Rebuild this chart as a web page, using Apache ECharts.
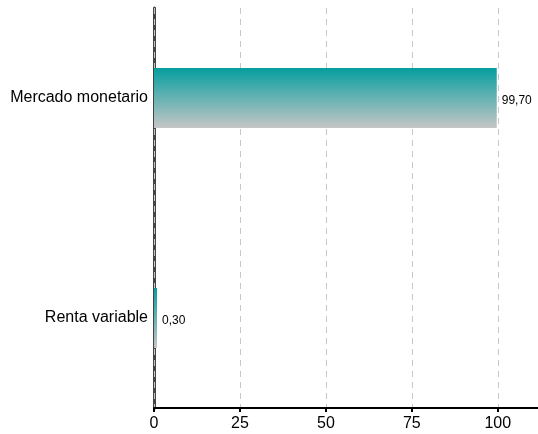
<!DOCTYPE html>
<html>
<head>
<meta charset="utf-8">
<script src="https://cdn.jsdelivr.net/npm/echarts@6/dist/echarts.min.js"></script>
<style>html,body{margin:0;padding:0;background:#fff}#c{width:538px;height:434px}</style>
</head>
<body>
<div id="c"></div>
<script>
var categories = ['Renta variable', 'Mercado monetario'];
var values = [0.30, 99.70];
var xTicks = [0, 25, 50, 75, 100];
var xMax = 111.7;

var chart = echarts.init(document.getElementById('c'));
chart.setOption({
  animation: false,
  textStyle: { fontFamily: 'Liberation Sans, Arial, sans-serif' },
  grid: [
    { left: 154, right: 0, top: -12, bottom: 6, containLabel: false, outerBoundsMode: 'none' },
    { left: 154, right: 0, top: 8, bottom: 26, containLabel: false, outerBoundsMode: 'none' }
  ],
  xAxis: [
    { gridIndex: 0, type: 'value', min: 0, max: xMax, show: false },
    {
      gridIndex: 1, type: 'value', min: 0, max: xMax, interval: 25, z: 5,
      axisLine: { show: true, lineStyle: { color: '#000', width: 2 } },
      axisTick: { show: true, length: 4, lineStyle: { color: '#000', width: 2 }, customValues: xTicks },
      axisLabel: { color: '#000', fontSize: 16, margin: 8, customValues: xTicks,
        formatter: function (v) { return String(v); } },
      splitLine: { show: true, lineStyle: { color: '#c8c8c8', type: [6, 5], width: 1 } }
    }
  ],
  yAxis: [
    {
      gridIndex: 0, type: 'category', data: categories,
      axisLine: { show: false }, axisTick: { show: false },
      axisLabel: { color: '#000', fontSize: 16, margin: 6, padding: [5, 0, 0, 0] },
      splitLine: { show: false }
    },
    {
      gridIndex: 1, type: 'category', data: categories, z: 1,
      axisLine: { show: true, lineStyle: { color: '#444', width: 3 } },
      axisTick: { show: false }, axisLabel: { show: false }, splitLine: { show: false }
    }
  ],
  series: [{
    type: 'bar', xAxisIndex: 0, yAxisIndex: 0, data: values, barWidth: 60,
    barMinHeight: 3, z: 10,
    itemStyle: {
      color: new echarts.graphic.LinearGradient(0, 0, 0, 1, [
        { offset: 0, color: '#069e9f' },
        { offset: 1, color: '#c6c6c6' }
      ])
    },
    label: {
      show: true, position: 'right', distance: 5, color: '#000', fontSize: 12,
      offset: [0, 3],
      formatter: function (p) { return p.value.toFixed(2).replace('.', ','); }
    }
  }]
});
</script>
</body>
</html>
